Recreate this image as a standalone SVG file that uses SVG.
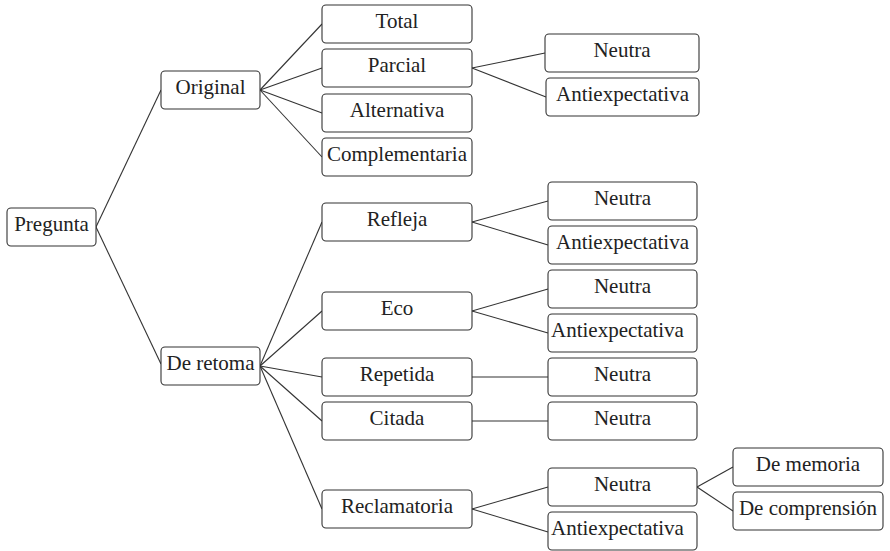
<svg xmlns="http://www.w3.org/2000/svg" width="890" height="551" viewBox="0 0 890 551">
<style>
.n rect{fill:#fff;stroke:#333;stroke-width:1.1}
.n text{font-family:'Liberation Serif','DejaVu Serif',serif;font-size:21px;fill:#222;text-anchor:middle}
.c line{stroke:#333;stroke-width:1.1}
</style>
<rect width="890" height="551" fill="#fff"/>
<g class="c">
<line x1="96" y1="227" x2="161" y2="90"/>
<line x1="96" y1="227" x2="161" y2="364"/>
<line x1="260" y1="90" x2="322" y2="24"/>
<line x1="260" y1="90" x2="322" y2="68"/>
<line x1="260" y1="90" x2="322" y2="113"/>
<line x1="260" y1="90" x2="322" y2="157"/>
<line x1="472" y1="68" x2="545" y2="53"/>
<line x1="472" y1="68" x2="546" y2="97"/>
<line x1="260" y1="366" x2="322" y2="222"/>
<line x1="260" y1="366" x2="322" y2="311"/>
<line x1="260" y1="366" x2="322" y2="377"/>
<line x1="260" y1="366" x2="322" y2="421"/>
<line x1="260" y1="366" x2="322" y2="509"/>
<line x1="472" y1="222" x2="548" y2="201"/>
<line x1="472" y1="222" x2="548" y2="245"/>
<line x1="472" y1="311" x2="548" y2="289"/>
<line x1="472" y1="311" x2="548" y2="333"/>
<line x1="472" y1="377" x2="548" y2="377"/>
<line x1="472" y1="421" x2="548" y2="421"/>
<line x1="472" y1="509" x2="548" y2="487"/>
<line x1="472" y1="509" x2="548" y2="532"/>
<line x1="697" y1="487" x2="733" y2="467"/>
<line x1="697" y1="487" x2="733" y2="511"/>
</g>
<g font-family="Liberation Serif, DejaVu Serif, serif">
<g id="pregunta" class="n"><rect x="7" y="208" width="89" height="38" rx="4"/><text x="51.5" y="231">Pregunta</text></g>
<g id="original" class="n"><rect x="161" y="71" width="99" height="38" rx="4"/><text x="210.5" y="94">Original</text></g>
<g id="deretoma" class="n"><rect x="161" y="347" width="99" height="38" rx="4"/><text x="210.5" y="370">De retoma</text></g>
<g id="total" class="n"><rect x="322" y="5" width="150" height="38" rx="4"/><text x="397" y="28">Total</text></g>
<g id="parcial" class="n"><rect x="322" y="49" width="150" height="38" rx="4"/><text x="397" y="72">Parcial</text></g>
<g id="alternativa" class="n"><rect x="322" y="94" width="150" height="38" rx="4"/><text x="397" y="117">Alternativa</text></g>
<g id="complementaria" class="n"><rect x="322" y="138" width="150" height="38" rx="4"/><text x="397" y="161">Complementaria</text></g>
<g id="parcial-neutra" class="n"><rect x="545" y="34" width="154" height="38" rx="4"/><text x="622" y="57">Neutra</text></g>
<g id="parcial-anti" class="n"><rect x="546" y="78" width="153" height="38" rx="4"/><text x="622.5" y="101">Antiexpectativa</text></g>
<g id="refleja" class="n"><rect x="322" y="203" width="150" height="38" rx="4"/><text x="397" y="226">Refleja</text></g>
<g id="refleja-neutra" class="n"><rect x="548" y="182" width="149" height="38" rx="4"/><text x="622.5" y="205">Neutra</text></g>
<g id="refleja-anti" class="n"><rect x="548" y="226" width="149" height="38" rx="4"/><text x="622.5" y="249">Antiexpectativa</text></g>
<g id="eco" class="n"><rect x="322" y="292" width="150" height="38" rx="4"/><text x="397" y="315">Eco</text></g>
<g id="eco-neutra" class="n"><rect x="548" y="270" width="149" height="38" rx="4"/><text x="622.5" y="293">Neutra</text></g>
<g id="eco-anti" class="n"><rect x="548" y="314" width="149" height="38" rx="4"/><text x="551" y="337" style="text-anchor:start">Antiexpectativa</text></g>
<g id="repetida" class="n"><rect x="322" y="358" width="150" height="38" rx="4"/><text x="397" y="381">Repetida</text></g>
<g id="repetida-neutra" class="n"><rect x="548" y="358" width="149" height="38" rx="4"/><text x="622.5" y="381">Neutra</text></g>
<g id="citada" class="n"><rect x="322" y="402" width="150" height="38" rx="4"/><text x="397" y="425">Citada</text></g>
<g id="citada-neutra" class="n"><rect x="548" y="402" width="149" height="38" rx="4"/><text x="622.5" y="425">Neutra</text></g>
<g id="reclamatoria" class="n"><rect x="322" y="490" width="150" height="38" rx="4"/><text x="397" y="513">Reclamatoria</text></g>
<g id="reclam-neutra" class="n"><rect x="548" y="468" width="149" height="38" rx="4"/><text x="622.5" y="491">Neutra</text></g>
<g id="reclam-anti" class="n"><rect x="548" y="512" width="149" height="38" rx="4"/><text x="551" y="535" style="text-anchor:start">Antiexpectativa</text></g>
<g id="memoria" class="n"><rect x="733" y="448" width="150" height="38" rx="4"/><text x="808" y="471">De memoria</text></g>
<g id="comprension" class="n"><rect x="733" y="492" width="150" height="38" rx="4"/><text x="808" y="515">De comprensión</text></g>
</g>
</svg>
